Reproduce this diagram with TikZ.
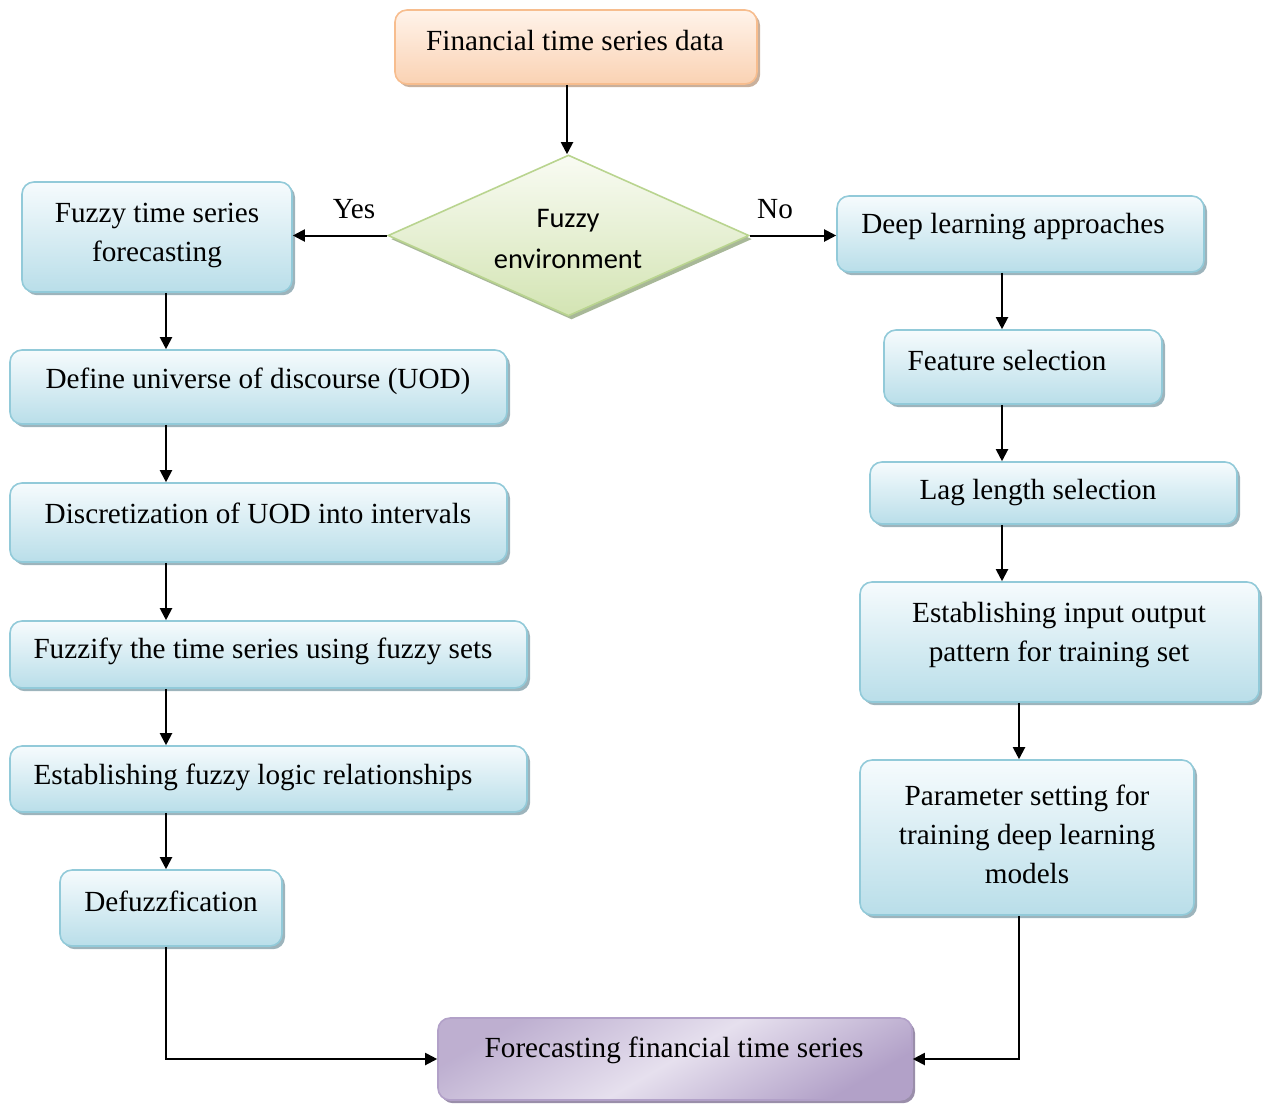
\documentclass[tikz,border=0pt]{standalone}
\usepackage{fontspec}
\setmainfont{Liberation Serif}
\newfontfamily\calib{Carlito}
\usetikzlibrary{shapes.geometric,shadows,arrows.meta}
\definecolor{bluetop}{HTML}{F6FBFD}
\definecolor{bluebot}{HTML}{B9DEE9}
\definecolor{blueline}{HTML}{92CAD9}
\definecolor{blueshade}{HTML}{9DB4BC}
\definecolor{ortop}{HTML}{FFF3EA}
\definecolor{orbot}{HTML}{FAD2B3}
\definecolor{orline}{HTML}{F7BD8E}
\definecolor{orshade}{HTML}{C9B09C}
\definecolor{grtop}{HTML}{F9FBF3}
\definecolor{grbot}{HTML}{D3E4B3}
\definecolor{grline}{HTML}{B9D48F}
\definecolor{grshade}{HTML}{A8B898}
\definecolor{pulight}{HTML}{E6E0EE}
\definecolor{pudark}{HTML}{B2A1C8}
\definecolor{pushade}{HTML}{9A8EAA}
\tikzset{
  bluebox/.style={rectangle, rounded corners=6pt, draw=blueline, line width=0.8pt,
    top color=bluetop, bottom color=bluebot, inner sep=0pt,
    drop shadow={shadow xshift=1.5pt, shadow yshift=-1.6pt, fill=blueshade, opacity=1}},
  orbox/.style={rectangle, rounded corners=6pt, draw=orline, line width=0.8pt,
    top color=ortop, bottom color=orbot, inner sep=0pt,
    drop shadow={shadow xshift=1.5pt, shadow yshift=-1.6pt, fill=orshade, opacity=1}},
  pubox/.style={rectangle, rounded corners=6pt, draw=pudark, line width=0.8pt,
    left color=pudark!85, right color=pudark, middle color=pulight, shading angle=30, inner sep=0pt,
    drop shadow={shadow xshift=1.5pt, shadow yshift=-1.6pt, fill=pushade, opacity=1}},
  decide/.style={diamond, draw=grline, line width=0.8pt, top color=grtop, bottom color=grbot,
    inner sep=0pt, aspect=2.2,
    drop shadow={shadow xshift=1.5pt, shadow yshift=-1.8pt, fill=grshade, opacity=1}},
  txt/.style={inner sep=0pt, align=center, font=\fontsize{14.6}{19.5}\selectfont},
  stxt/.style={inner sep=0pt, align=center, font=\calib\fontsize{14.2}{20.5}\selectfont},
  arr/.style={line width=1pt, -{Triangle[length=6pt,width=6pt]}},
}
\begin{document}
\begin{tikzpicture}[x=0.5pt, y=-0.5pt]
\useasboundingbox (0,0) rectangle (1267,1103);

% boxes
\node[orbox, minimum width=181pt, minimum height=37pt] (src) at (576,47) {};
\node[decide, minimum width=180.5pt, minimum height=80.5pt] (env) at (568.5,235.5) {};
\node[bluebox, minimum width=135pt, minimum height=55pt] (fts) at (157,237) {};
\node[bluebox, minimum width=248.5pt, minimum height=37pt] (uod) at (258.5,387) {};
\node[bluebox, minimum width=248.5pt, minimum height=39.5pt] (disc) at (258.5,522.5) {};
\node[bluebox, minimum width=258.5pt, minimum height=33.5pt] (fzy) at (268.5,654.5) {};
\node[bluebox, minimum width=258.5pt, minimum height=33pt] (flr) at (268.5,779) {};
\node[bluebox, minimum width=111pt, minimum height=38pt] (dfz) at (171,908) {};
\node[bluebox, minimum width=183.5pt, minimum height=38pt] (dl) at (1020.5,234) {};
\node[bluebox, minimum width=139pt, minimum height=37pt] (fs) at (1023,367) {};
\node[bluebox, minimum width=183.5pt, minimum height=31pt] (lag) at (1053.5,493) {};
\node[bluebox, minimum width=199.5pt, minimum height=60pt] (io) at (1059.5,642) {};
\node[bluebox, minimum width=167pt, minimum height=77.5pt] (par) at (1027,837.5) {};
\node[pubox, minimum width=237pt, minimum height=41pt] (out) at (675,1059) {};

% texts
\node[txt] (tsrc) at (575,41) {Financial time series data};
\node[stxt] (tenv) at (568,239) {Fuzzy\\environment};
\node[txt] (tyes) at (354,209) {Yes};
\node[txt] (tno) at (775,209) {No};
\node[txt] (tfts) at (157,235) {Fuzzy time series\\forecasting};
\node[txt] (tuod) at (258,381) {Define universe of discourse (UOD)};
\node[txt] (tdisc) at (258,513) {Discretization of UOD into intervals};
\node[txt] (tfzy) at (263,651) {Fuzzify the time series using fuzzy sets};
\node[txt] (tflr) at (253,777) {Establishing fuzzy logic relationships};
\node[txt] (tdfz) at (171,901) {Defuzzfication};
\node[txt] (tdl) at (1013,227) {Deep learning approaches};
\node[txt] (tfs) at (1007,361) {Feature selection};
\node[txt] (tlag) at (1038,493) {Lag length selection};
\node[txt] (tio) at (1059,635) {Establishing input output\\pattern for training set};
\node[txt] (tpar) at (1027,834) {Parameter setting for\\training deep learning\\models};
\node[txt] (tout) at (674,1050) {Forecasting financial time series};

% column guides
\coordinate (colL) at (166,0);
\coordinate (colR) at (1002,0);
\coordinate (colRR) at (1019,0);
\coordinate (colT) at (567,0);

% connectors
\draw[arr] (src.south -| colT) -- (env.north -| colT);
\draw[arr] (env.west) -- (fts.east |- env.west);
\draw[arr] (env.east) -- (dl.west |- env.east);
\draw[arr] (fts.south -| colL) -- (uod.north -| colL);
\draw[arr] (uod.south -| colL) -- (disc.north -| colL);
\draw[arr] (disc.south -| colL) -- (fzy.north -| colL);
\draw[arr] (fzy.south -| colL) -- (flr.north -| colL);
\draw[arr] (flr.south -| colL) -- (dfz.north -| colL);
\draw[arr] (dfz.south -| colL) |- (out.west);
\draw[arr] (dl.south -| colR) -- (fs.north -| colR);
\draw[arr] (fs.south -| colR) -- (lag.north -| colR);
\draw[arr] (lag.south -| colR) -- (io.north -| colR);
\draw[arr] (io.south -| colRR) -- (par.north -| colRR);
\draw[arr] (par.south -| colRR) |- (out.east);
\end{tikzpicture}
\end{document}
